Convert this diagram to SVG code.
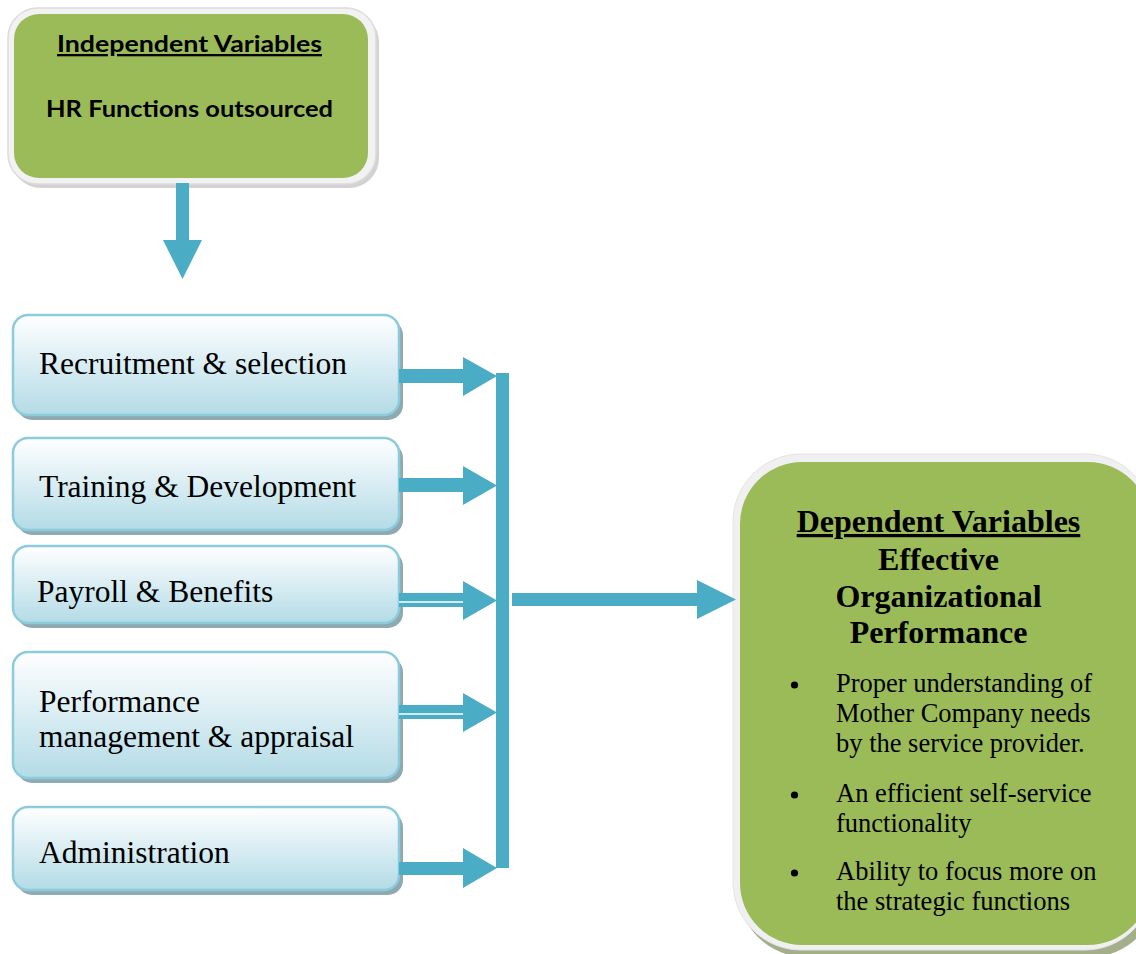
<svg xmlns="http://www.w3.org/2000/svg" width="1136" height="954" viewBox="0 0 1136 954">
<defs>
<linearGradient id="blueGrad" x1="0" y1="0" x2="0" y2="1">
<stop offset="0" stop-color="#ffffff"/>
<stop offset="1" stop-color="#b3dbe6"/>
</linearGradient>
<style>
.box{fill:url(#blueGrad);stroke:#8ccbdc;stroke-width:2.5}
.shadow{fill:#8fa9b1}
.lbl{font-family:"Liberation Serif","Times New Roman",serif;font-size:31.5px;fill:#000}
.arrow{fill:#4bacc6}
.gap{stroke:#ffffff;stroke-width:1.5}
.hd{font-family:Lato,"Open Sans",sans-serif;font-weight:bold;font-size:23px;fill:#000}
.dv{font-family:"Liberation Serif","Times New Roman",serif;font-weight:bold;font-size:32px;fill:#000;text-anchor:middle}
.bl{font-family:"Liberation Serif","Times New Roman",serif;font-size:26.5px;fill:#000}
</style>
</defs>
<rect width="1136" height="954" fill="#ffffff"/>

<g id="independent">
<rect x="11" y="12" width="368" height="176" rx="30" fill="#bfbfbf" opacity="0.7"/>
<rect x="8" y="8" width="368" height="176" rx="30" fill="#f2f2f2" stroke="#dcdcdc" stroke-width="1.5"/>
<rect x="14" y="14" width="354" height="164" rx="25" fill="#9bbb59"/>
<text class="hd" x="57" y="52" textLength="265" lengthAdjust="spacingAndGlyphs" text-decoration="underline">Independent Variables</text>
<text class="hd" x="46" y="117" textLength="287" lengthAdjust="spacingAndGlyphs">HR Functions outsourced</text>
</g>

<g id="recruitment">
<rect class="shadow" x="17" y="320" width="386" height="100" rx="15"/>
<rect class="box" x="13" y="315" width="386" height="100" rx="15"/>
<text class="lbl" x="39" y="374">Recruitment &amp; selection</text>
</g>
<g id="training">
<rect class="shadow" x="17" y="443" width="386" height="92" rx="15"/>
<rect class="box" x="13" y="438" width="386" height="92" rx="15"/>
<text class="lbl" x="39" y="497">Training &amp; Development</text>
</g>
<g id="payroll">
<rect class="shadow" x="17" y="551" width="386" height="77" rx="15"/>
<rect class="box" x="13" y="546" width="386" height="77" rx="15"/>
<text class="lbl" x="37" y="602">Payroll &amp; Benefits</text>
</g>
<g id="performance">
<rect class="shadow" x="17" y="657" width="386" height="126" rx="15"/>
<rect class="box" x="13" y="652" width="386" height="126" rx="15"/>
<text class="lbl" x="39" y="712">Performance</text>
<text class="lbl" x="39" y="747">management &amp; appraisal</text>
</g>
<g id="administration">
<rect class="shadow" x="17" y="812" width="386" height="83" rx="15"/>
<rect class="box" x="13" y="807" width="386" height="83" rx="15"/>
<text class="lbl" x="39" y="863">Administration</text>
</g>

<g id="dependent">
<rect x="738" y="460" width="420" height="497" rx="68" fill="#a3ae8a"/>
<rect x="733" y="454" width="420" height="496" rx="68" fill="#f0f0f0" stroke="#e4e4e4" stroke-width="1"/>
<rect x="740" y="462" width="410" height="483" rx="62" fill="#9bbb59"/>
<text class="dv" x="938.5" y="532" text-decoration="underline">Dependent Variables</text>
<text class="dv" x="938.5" y="570">Effective</text>
<text class="dv" x="938.5" y="607">Organizational</text>
<text class="dv" x="938.5" y="643">Performance</text>
<circle cx="794.5" cy="685" r="3.6" fill="#000"/>
<circle cx="794.5" cy="795" r="3.6" fill="#000"/>
<circle cx="794.5" cy="873" r="3.6" fill="#000"/>
<text class="bl" x="836" y="692">Proper understanding of</text>
<text class="bl" x="836" y="722">Mother Company needs</text>
<text class="bl" x="836" y="752">by the service provider.</text>
<text class="bl" x="836" y="802">An efficient self-service</text>
<text class="bl" x="836" y="832">functionality</text>
<text class="bl" x="836" y="880">Ability to focus more on</text>
<text class="bl" x="836" y="910">the strategic functions</text>
</g>

<g id="connectors">
<polygon class="arrow" points="176,183 189,183 189,240 202,240 182.5,279 163,240 176,240"/>
<rect class="arrow" x="496" y="373" width="13" height="495"/>
<polygon class="arrow" points="399,369 463,369 463,357 497,376 463,396 463,383 399,383"/>
<polygon class="arrow" points="399,478 463,478 463,466 497,485.5 463,505 463,492 399,492"/>
<polygon class="arrow" points="399,593 463,593 463,581 497,600.5 463,620 463,607 399,607"/>
<line class="gap" x1="399" y1="602" x2="463" y2="602"/>
<polygon class="arrow" points="399,705 463,705 463,693 497,712.5 463,732 463,719 399,719"/>
<line class="gap" x1="399" y1="714" x2="463" y2="714"/>
<polygon class="arrow" points="399,862 463,862 463,848 497,868 463,888 463,875 399,875"/>
<polygon class="arrow" points="512,593 697,593 697,580 736,599.5 697,619 697,606 512,606"/>
</g>
</svg>
